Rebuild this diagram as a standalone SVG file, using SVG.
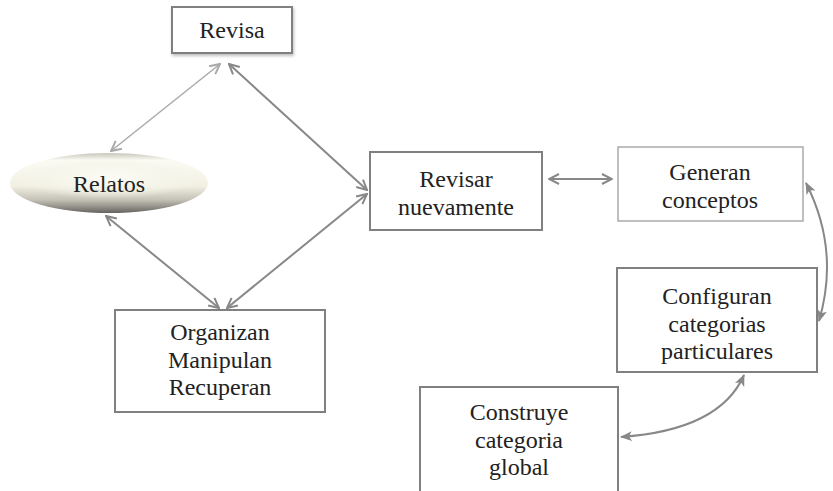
<svg xmlns="http://www.w3.org/2000/svg" width="833" height="491" viewBox="0 0 833 491">
<style>
.box{fill:#fff;stroke:#808080;stroke-width:2}
.lbl{font-family:'Liberation Serif',serif !important;font-size:24px;fill:#222;text-anchor:middle}
.con{fill:none;stroke:#888;stroke-width:2;marker-start:url(#ah);marker-end:url(#ah)}
.conl{fill:none;stroke:#aaa;stroke-width:1.5;marker-start:url(#ahl);marker-end:url(#ahl)}
.cur{fill:none;stroke:#888;stroke-width:2;marker-start:url(#af);marker-end:url(#af)}
</style>
<defs>
<marker id="ah" viewBox="0 0 12 12" refX="11" refY="6" markerWidth="12" markerHeight="12" orient="auto-start-reverse" markerUnits="userSpaceOnUse">
<path d="M1,1 L11,6 L1,11" fill="none" stroke="#888" stroke-width="2"/>
</marker>
<marker id="ahl" viewBox="0 0 12 12" refX="11" refY="6" markerWidth="12" markerHeight="12" orient="auto-start-reverse" markerUnits="userSpaceOnUse">
<path d="M1,1 L11,6 L1,11" fill="none" stroke="#aaa" stroke-width="2"/>
</marker>
<marker id="af" viewBox="0 0 12 12" refX="11" refY="6" markerWidth="12" markerHeight="12" orient="auto-start-reverse" markerUnits="userSpaceOnUse">
<path d="M0,1 L12,6 L0,11 L3,6 Z" fill="#888"/>
</marker>
<linearGradient id="eg" x1="0" y1="0" x2="0" y2="1">
<stop offset="0" stop-color="#c8c6bb"/>
<stop offset="0.12" stop-color="#fbfbf4"/>
<stop offset="0.55" stop-color="#f1f0e2"/>
<stop offset="0.78" stop-color="#c4c2b6"/>
<stop offset="1" stop-color="#666460"/>
</linearGradient>
<radialGradient id="eh" cx="0.5" cy="0.45" r="0.5">
<stop offset="0" stop-color="#fdfdf7" stop-opacity="0.9"/>
<stop offset="0.7" stop-color="#f6f5ea" stop-opacity="0.6"/>
<stop offset="1" stop-color="#f6f5ea" stop-opacity="0"/>
</radialGradient>
<filter id="sh" x="-10%" y="-10%" width="130%" height="140%">
<feDropShadow dx="1" dy="2" stdDeviation="1.5" flood-color="#000" flood-opacity="0.25"/>
</filter>
</defs>
<g id="connectors">
<line class="conl" x1="111" y1="151" x2="220" y2="64"/>
<line class="con" x1="229" y1="64" x2="367" y2="190"/>
<line class="con" x1="106" y1="216" x2="219" y2="308"/>
<line class="con" x1="367" y1="194" x2="227" y2="308"/>
<line class="con" x1="549" y1="179" x2="612" y2="179"/>
<path class="cur" d="M806,183 Q840,250 819,321"/>
<path class="cur" d="M744,375 Q720,430 621,437"/>
</g>
<g id="revisa">
<rect class="box" x="172" y="7" width="120" height="46" filter="url(#sh)"/>
<text class="lbl" style="font-family:'Liberation Serif',serif" x="232" y="38">Revisa</text>
</g>
<g id="relatos">
<ellipse cx="109" cy="183" rx="99" ry="30" fill="url(#eg)"/>
<ellipse cx="109" cy="180" rx="92" ry="21" fill="url(#eh)"/>
<text class="lbl" style="font-family:'Liberation Serif',serif" x="109" y="192">Relatos</text>
</g>
<g id="revisar">
<rect class="box" x="370" y="152" width="172" height="78"/>
<text class="lbl" style="font-family:'Liberation Serif',serif" x="456" y="187">Revisar</text>
<text class="lbl" style="font-family:'Liberation Serif',serif" x="456" y="215">nuevamente</text>
</g>
<g id="organizan">
<rect class="box" x="115" y="310" width="210" height="102"/>
<text class="lbl" style="font-family:'Liberation Serif',serif" x="220" y="340">Organizan</text>
<text class="lbl" style="font-family:'Liberation Serif',serif" x="220" y="368">Manipulan</text>
<text class="lbl" style="font-family:'Liberation Serif',serif" x="220" y="395">Recuperan</text>
</g>
<g id="generan">
<rect class="box" x="618" y="147" width="185" height="74" style="stroke:#aaa;stroke-width:1.5"/>
<text class="lbl" style="font-family:'Liberation Serif',serif" x="710" y="180">Generan</text>
<text class="lbl" style="font-family:'Liberation Serif',serif" x="710" y="208">conceptos</text>
</g>
<g id="configuran">
<rect class="box" x="617" y="268" width="200" height="104"/>
<text class="lbl" style="font-family:'Liberation Serif',serif" x="717" y="304">Configuran</text>
<text class="lbl" style="font-family:'Liberation Serif',serif" x="717" y="332">categorias</text>
<text class="lbl" style="font-family:'Liberation Serif',serif" x="717" y="359">particulares</text>
</g>
<g id="construye">
<rect class="box" x="420" y="387" width="198" height="120"/>
<text class="lbl" style="font-family:'Liberation Serif',serif" x="519" y="420">Construye</text>
<text class="lbl" style="font-family:'Liberation Serif',serif" x="519" y="448">categoria</text>
<text class="lbl" style="font-family:'Liberation Serif',serif" x="519" y="475">global</text>
</g>
</svg>
